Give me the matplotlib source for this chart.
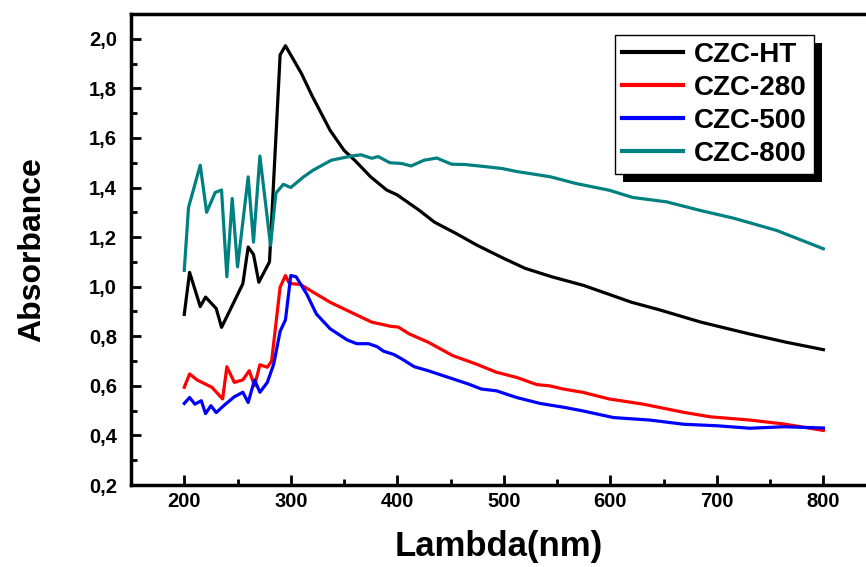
import matplotlib
matplotlib.use("Agg")
import matplotlib.pyplot as plt
from matplotlib.ticker import MultipleLocator, FuncFormatter
from matplotlib.patches import Rectangle

plt.rcParams['font.family'] = ['Liberation Sans', 'DejaVu Sans']
plt.rcParams['font.weight'] = 'bold'

# CZC-HT
x_ht = [200, 205, 215, 220, 230, 235, 242, 255, 260, 265, 270, 280, 290, 295, 310, 320,
        337, 350, 360, 375, 390, 400, 420, 435, 455, 475, 500, 520, 545, 575, 620, 645,
        685, 730, 765, 800]
y_ht = [0.888, 1.058, 0.92, 0.958, 0.912, 0.836, 0.897, 1.012, 1.16, 1.13, 1.018, 1.10,
        1.935, 1.972, 1.86, 1.77, 1.63, 1.55, 1.51, 1.443, 1.39, 1.37, 1.31, 1.26, 1.215,
        1.167, 1.114, 1.074, 1.04, 1.005, 0.937, 0.908, 0.857, 0.81, 0.776, 0.746]

# CZC-280
x_280 = [200, 205, 212, 226, 236, 240, 247, 255, 261, 266, 271, 278, 282, 290, 295, 298,
         301, 309, 321, 337, 353, 376, 394, 401, 411, 429, 452, 474, 493, 512, 531, 543,
         556, 574, 599, 631, 669, 694, 731, 763, 800]
y_280 = [0.594, 0.648, 0.624, 0.594, 0.547, 0.677, 0.614, 0.624, 0.661, 0.60, 0.685,
         0.675, 0.70, 0.998, 1.045, 1.018, 1.012, 1.009, 0.978, 0.937, 0.904, 0.857, 0.84,
         0.837, 0.81, 0.776, 0.722, 0.688, 0.655, 0.634, 0.605, 0.60, 0.587, 0.574, 0.547,
         0.526, 0.493, 0.475, 0.462, 0.446, 0.42]

# CZC-500
x_500 = [200, 205, 210, 216, 220, 225, 230, 237, 247, 255, 260, 266, 271, 278, 284, 290,
         295, 300, 305, 315, 324, 337, 353, 362, 373, 381, 387, 397, 404, 416, 429, 448,
         467, 479, 493, 512, 534, 557, 574, 603, 637, 669, 700, 731, 763, 800]
y_500 = [0.529, 0.553, 0.526, 0.54, 0.488, 0.52, 0.492, 0.52, 0.556, 0.574, 0.533, 0.624,
         0.574, 0.614, 0.688, 0.82, 0.866, 1.045, 1.04, 0.97, 0.89, 0.83, 0.785, 0.77,
         0.77, 0.758, 0.74, 0.726, 0.709, 0.677, 0.661, 0.634, 0.607, 0.587, 0.58, 0.553,
         0.529, 0.513, 0.499, 0.472, 0.462, 0.445, 0.439, 0.429, 0.435, 0.43]

# CZC-800
x_800 = [200, 204, 215, 221, 229, 235, 240, 245, 250, 260, 265, 271, 281, 286, 293, 300,
         312, 321, 338, 357, 366, 376, 382, 393, 404, 413, 425, 437, 451, 463, 479, 498,
         513, 534, 544, 568, 599, 621, 653, 684, 716, 756, 800]
y_800 = [1.066, 1.32, 1.49, 1.30, 1.38, 1.39, 1.04, 1.356, 1.08, 1.443, 1.18, 1.527,
         1.167, 1.377, 1.413, 1.40, 1.443, 1.47, 1.51, 1.527, 1.532, 1.518, 1.525, 1.50,
         1.497, 1.487, 1.51, 1.519, 1.494, 1.493, 1.486, 1.477, 1.464, 1.45, 1.443, 1.416,
         1.389, 1.36, 1.342, 1.308, 1.276, 1.227, 1.153]

labels = ['CZC-HT', 'CZC-280', 'CZC-500', 'CZC-800']
colors = ['black', '#ff0000', '#0000ff', '#008080']

fig = plt.figure(figsize=(8.66, 5.67), dpi=100)
ax = fig.add_axes([131 / 866, 82 / 567, 1 - 131 / 866, (485 - 14) / 567])

series = [(x_ht, y_ht), (x_280, y_280), (x_500, y_500), (x_800, y_800)]
for (xs, ys), lab, col in zip(series, labels, colors):
    ax.plot(xs, ys, color=col, lw=2.3, label=lab)

ax.set_xlim(150, 840)
ax.set_ylim(0.2, 2.1)
ax.xaxis.set_major_locator(MultipleLocator(100))
ax.xaxis.set_minor_locator(MultipleLocator(50))
ax.yaxis.set_major_locator(MultipleLocator(0.2))
ax.yaxis.set_minor_locator(MultipleLocator(0.1))
ax.yaxis.set_major_formatter(FuncFormatter(lambda v, p: f"{v:.1f}".replace('.', ',')))
ax.xaxis.set_major_formatter(FuncFormatter(lambda v, p: f"{v:.0f}" if 200 <= v <= 800 else ""))

ax.tick_params(which='major', direction='in', length=7, width=2, labelsize=14.5, pad=5)
ax.tick_params(axis='y', which='major', pad=10)
ax.tick_params(which='minor', direction='in', length=4, width=2)
ax.tick_params(top=False, right=False)

for s in ['left', 'bottom', 'top']:
    ax.spines[s].set_linewidth(2.5)
ax.spines['right'].set_visible(False)

ax.set_xlabel('Lambda(nm)', fontsize=25, fontweight='bold', labelpad=14)
ax.set_ylabel('Absorbance', fontsize=23, fontweight='bold', labelpad=30)

leg = ax.legend(loc='upper left', bbox_to_anchor=((615 - 131) / 735, (485 - 35) / 471),
                fontsize=20, handlelength=2.2, handletextpad=0.4, labelspacing=0.25,
                borderpad=0.25, borderaxespad=0, fancybox=False, framealpha=1,
                edgecolor='black')
leg.get_frame().set_linewidth(1)
for h in leg.get_lines():
    h.set_linewidth(3)

fig.canvas.draw()
bb = leg.get_window_extent()
inv = ax.transAxes.inverted()
(x0, y0), (x1, y1) = inv.transform([[bb.x0 + 8, bb.y0 - 8], [bb.x1 + 8, bb.y1 - 8]])
ax.add_patch(Rectangle((x0, y0), x1 - x0, y1 - y0, transform=ax.transAxes,
                       facecolor='black', edgecolor='none', zorder=4.9, clip_on=False))

fig.savefig('out.png', dpi=100)
